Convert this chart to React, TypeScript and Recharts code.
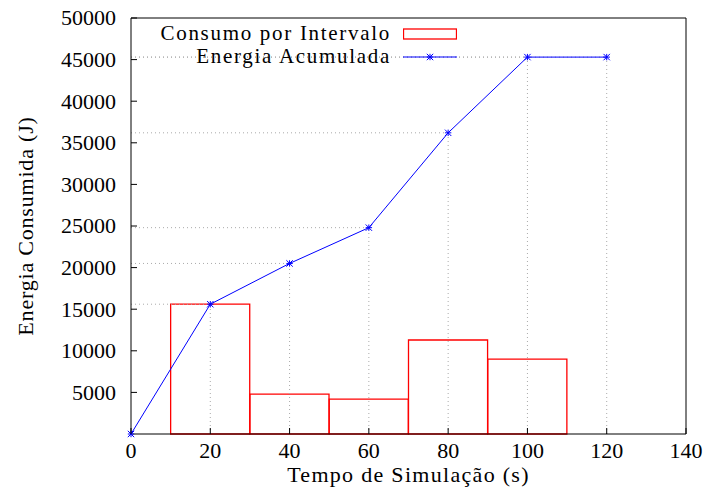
import {
  ComposedChart,
  Bar,
  Line,
  XAxis,
  YAxis,
  Legend,
  ReferenceLine,
} from "recharts";

const tempos = [0, 20, 40, 60, 80, 100, 120];
const consumoIntervalo = [null, 15600, 4800, 4200, 11300, 9000, null];
const energiaAcumulada = [0, 15600, 20500, 24800, 36200, 45300, 45300];
const xTicks = [0, 20, 40, 60, 80, 100, 120, 140];
const yTicks = [5000, 10000, 15000, 20000, 25000, 30000, 35000, 40000, 45000, 50000];

const W = 709;
const H = 495;
const LEFT = 131;
const RIGHT = 23;
const TOP = 18;
const BOTTOM = 61;
const plotW = W - LEFT - RIGHT;
const FONT = "'Liberation Serif', serif";
const FS = 22;
const SPACING = 1.3;

const data = tempos.map((t, i) => ({
  t,
  consumo: consumoIntervalo[i],
  acumulada: energiaAcumulada[i],
}));

function Asterisk({ cx, cy, color }: { cx: number; cy: number; color: string }) {
  const r = 3.2;
  return (
    <g stroke={color} strokeWidth={1}>
      <line x1={cx - r} y1={cy - r} x2={cx + r} y2={cy + r} />
      <line x1={cx - r} y1={cy + r} x2={cx + r} y2={cy - r} />
      <line x1={cx - r} y1={cy} x2={cx + r} y2={cy} />
      <line x1={cx} y1={cy - r} x2={cx} y2={cy + r} />
    </g>
  );
}

function YTick(props: any) {
  const { y, payload } = props;
  return (
    <g>
      <line x1={LEFT} x2={LEFT + 6} y1={y} y2={y} stroke="#000" />
      <text x={LEFT - 15} y={y} dy="0.34em" textAnchor="end" fontFamily={FONT} fontSize={FS} fill="#000">
        {payload.value}
      </text>
    </g>
  );
}

function XTick(props: any) {
  const { x, payload } = props;
  const base = H - BOTTOM;
  return (
    <g>
      <line x1={x} x2={x} y1={base} y2={base - 6} stroke="#000" />
      <text x={x} y={base + 8} dy="0.71em" textAnchor="middle" fontFamily={FONT} fontSize={FS} fill="#000">
        {payload.value}
      </text>
    </g>
  );
}

// legend rows, gnuplot style: text right-aligned, sample to the right
function LegendBox() {
  const row = {
    display: "flex",
    alignItems: "center",
    justifyContent: "flex-end",
    height: 23,
    fontFamily: FONT,
    fontSize: 21,
    letterSpacing: 1.7,
    lineHeight: "23px",
    whiteSpace: "nowrap",
    color: "#000",
  } as const;
  return (
    <div style={{ width: 360 }}>
      <div style={row}>
        <span>Consumo por Intervalo</span>
        <svg width={54} height={20} style={{ marginLeft: 12 }}>
          <rect x={0.5} y={5} width={53} height={10} fill="none" stroke="#ff0000" strokeWidth={1.3} />
        </svg>
      </div>
      <div style={row}>
        <span>Energia Acumulada</span>
        <svg width={54} height={20} style={{ marginLeft: 12 }}>
          <line x1={0} x2={54} y1={10} y2={10} stroke="#0000ff" strokeWidth={1} />
          <Asterisk cx={27} cy={10} color="#0000ff" />
        </svg>
      </div>
    </div>
  );
}

export default function App() {
  return (
    <div style={{ position: "fixed", left: 0, top: 0, background: "#fff" }}>
      <ComposedChart
        width={W}
        height={H}
        data={data}
        barCategoryGap={0}
        barGap={0}
        margin={{ top: TOP, right: RIGHT, left: 0, bottom: 0 }}
      >
        <XAxis
          dataKey="t"
          type="number"
          domain={[0, 140]}
          ticks={xTicks}
          height={BOTTOM}
          tick={<XTick />}
          tickLine={false}
          tickSize={0}
          stroke="#000"
          label={{
            value: "Tempo de Simulação (s)",
            position: "center",
            dy: 10,
            style: { fontFamily: FONT, fontSize: FS, fill: "#000", letterSpacing: SPACING },
          }}
        />
        <YAxis
          type="number"
          domain={[0, 50000]}
          ticks={yTicks}
          width={LEFT}
          tick={<YTick />}
          tickLine={false}
          tickSize={0}
          stroke="#000"
          label={{
            value: "Energia Consumida (J)",
            angle: -90,
            position: "center",
            dx: -40,
            style: {
              fontFamily: FONT,
              fontSize: FS,
              fill: "#000",
              textAnchor: "middle",
              letterSpacing: 0.8,
            },
          }}
        />
        <ReferenceLine y={50000} stroke="#000" />
        <ReferenceLine x={140} stroke="#000" />
        {tempos.slice(1).map((t, i) => (
          <ReferenceLine
            key={"h" + t}
            segment={[
              { x: 0, y: energiaAcumulada[i + 1] },
              { x: t, y: energiaAcumulada[i + 1] },
            ]}
            stroke="#aaa"
            strokeDasharray="1 3"
          />
        ))}
        {tempos.slice(1).map((t, i) => (
          <ReferenceLine
            key={"v" + t}
            segment={[
              { x: t, y: 0 },
              { x: t, y: energiaAcumulada[i + 1] },
            ]}
            stroke="#aaa"
            strokeDasharray="1 3"
          />
        ))}
        <Bar
          dataKey="consumo"
          name="Consumo por Intervalo"
          barSize={(plotW * 20) / 140 - 0.2}
          fill="none"
          stroke="#ff0000"
          strokeWidth={1.3}
          isAnimationActive={false}
        />
        <Line
          dataKey="acumulada"
          name="Energia Acumulada"
          type="linear"
          stroke="#0000ff"
          strokeWidth={1}
          dot={(p: any) => <Asterisk key={p.index} cx={p.cx} cy={p.cy} color="#0000ff" />}
          isAnimationActive={false}
        />
        <Legend
          layout="vertical"
          align="center"
          verticalAlign="middle"
          content={() => <LegendBox />}
          wrapperStyle={{ position: "absolute", left: 97, top: 22, width: 360 }}
        />
      </ComposedChart>
    </div>
  );
}
